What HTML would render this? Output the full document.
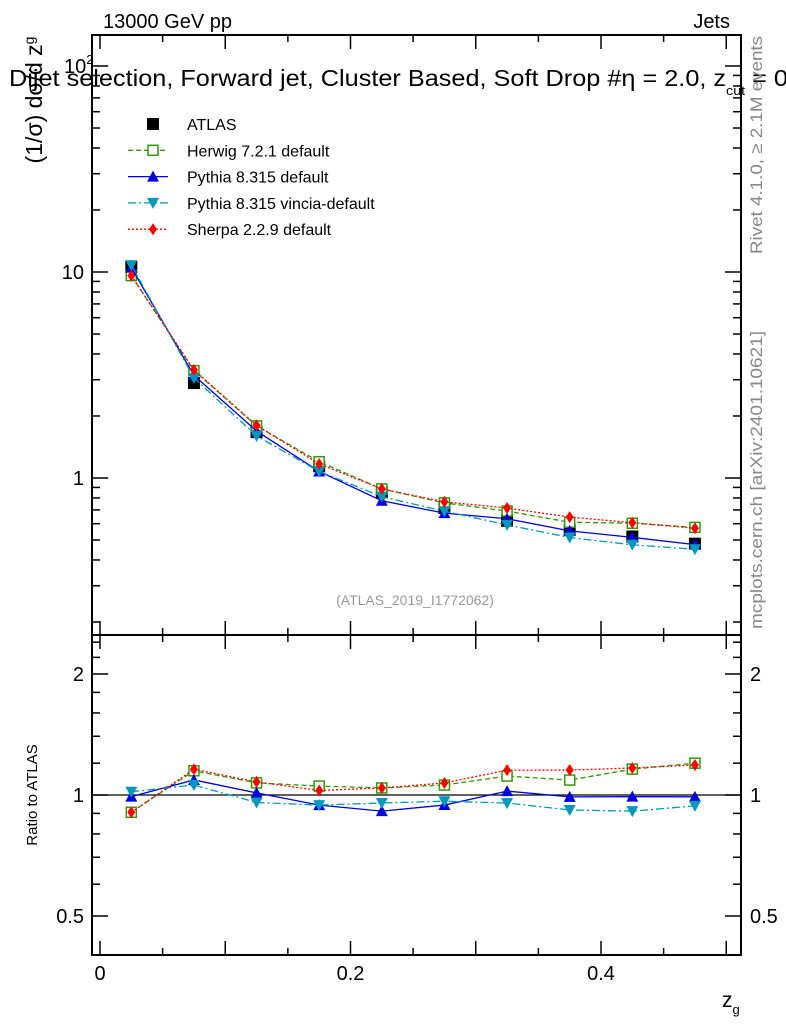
<!DOCTYPE html>
<html><head><meta charset="utf-8"><style>
body{margin:0;background:#fff;width:786px;height:1024px;overflow:hidden}
svg{font-family:"Liberation Sans",sans-serif}
</style></head><body>
<svg id="c" width="786" height="1024" viewBox="0 0 786 1024"></svg>
<script>
const xCenters=[0.025,0.075,0.125,0.175,0.225,0.275,0.325,0.375,0.425,0.475];
const atlasVals=[10.6,2.89,1.67,1.14,0.85,0.715,0.62,0.56,0.52,0.48];
const herwigVals=[9.6,3.32,1.79,1.20,0.885,0.757,0.691,0.61,0.603,0.576];
const pythiaVals=[10.5,3.15,1.69,1.076,0.775,0.675,0.634,0.554,0.515,0.475];
const vinciaVals=[10.8,3.06,1.60,1.076,0.812,0.69,0.592,0.514,0.474,0.451];
const sherpaVals=[9.6,3.35,1.80,1.17,0.885,0.766,0.715,0.646,0.607,0.57];
const xTicks=[0,0.2,0.4];
const ratioTicks=[0.5,1,2];

const NS="http://www.w3.org/2000/svg";
const svg=document.getElementById('c');
function el(t,a,p){const e=document.createElementNS(NS,t);for(const k in a)e.setAttribute(k,a[k]);(p||svg).appendChild(e);return e;}
const L=92,R=741,T=35,M=635,B=955;
const X=v=>100+v*1252.5;
const Y=v=>478-Math.log10(v)*206;
const YR=v=>795-Math.log2(v)*121;

let f1=el('rect',{x:L,y:T,width:R-L,height:M-T,fill:'none',stroke:'#000','stroke-width':2});

let f2=el('rect',{x:L,y:M,width:R-L,height:B-M,fill:'none',stroke:'#000','stroke-width':2});


for(let v=0;v<=0.5001;v+=0.05){const big=Math.abs(v*10-Math.round(v*10))<1e-6;const len=big?14:7;const x=X(v);
 [[T,T+len],[M,M-len],[M,M+len],[B,B-len]].forEach(([a,b])=>el('line',{x1:x,x2:x,y1:a,y2:b,stroke:'#000','stroke-width':1.5}));}
xTicks.forEach(v=>{const t=el('text',{x:X(v),y:980,'font-size':20,'text-anchor':'middle'});t.textContent=v===0?'0':v.toFixed(1);
 });
for(let d=-1;d<=2;d++)for(let m=1;m<10;m++){const v=m*Math.pow(10,d);const y=Y(v);if(y<T||y>M)continue;const len=m===1?16:8;
 el('line',{x1:L,x2:L+len,y1:y,y2:y,stroke:'#000','stroke-width':1.5});el('line',{x1:R,x2:R-len,y1:y,y2:y,stroke:'#000','stroke-width':1.5});}
[[1,'1'],[10,'10']].forEach(([v,s])=>{const t=el('text',{x:84,y:Y(v)+7,'font-size':20,'text-anchor':'end'});t.textContent=s;
 });
let t100=el('text',{x:64,y:73,'font-size':20});t100.innerHTML='10<tspan dy="-9" font-size="13">2</tspan>';

[0.4,0.5,0.6,0.7,0.8,0.9,1,1.2,1.4,1.6,1.8,2,2.2,2.4].forEach(v=>{const y=YR(v);const big=ratioTicks.includes(v);const len=big?16:8;
 el('line',{x1:L,x2:L+len,y1:y,y2:y,stroke:'#000','stroke-width':1.5});el('line',{x1:R,x2:R-len,y1:y,y2:y,stroke:'#000','stroke-width':1.5});});
ratioTicks.forEach(v=>{[[84,'end'],[750,'start']].forEach(([x,a])=>{const t=el('text',{x:x,y:YR(v)+7,'font-size':20,'text-anchor':a});t.textContent=String(v);
 });});
el('line',{x1:L,x2:R,y1:YR(1),y2:YR(1),stroke:'#000','stroke-width':1.2});

const series=[
 {name:'herwig',vals:herwigVals,color:'#339900',dash:'5,3',mk:'sq'},
 {name:'pythia',vals:pythiaVals,color:'#0000dd',dash:'',mk:'tri'},
 {name:'vincia',vals:vinciaVals,color:'#0099bb',dash:'8,3,2,3',mk:'itri'},
 {name:'sherpa',vals:sherpaVals,color:'#ff0000',dash:'2,2',mk:'dia'}];
function marker(kind,x,y,c,g){
 if(kind==='sq')return el('rect',{x:x-5,y:y-5,width:10,height:10,fill:'#fff',stroke:c,'stroke-width':1.5},g);
 if(kind==='tri')return el('polygon',{points:`${x},${y-6} ${x-6},${y+5} ${x+6},${y+5}`,fill:c},g);
 if(kind==='itri')return el('polygon',{points:`${x},${y+6} ${x-6},${y-5} ${x+6},${y-5}`,fill:c},g);
 if(kind==='dia')return el('polygon',{points:`${x},${y-6} ${x-4},${y} ${x},${y+6} ${x+4},${y}`,fill:c},g);
 return el('rect',{x:x-6,y:y-6,width:12,height:12,fill:c},g);}
const ga=el('g',{});
xCenters.forEach((x,i)=>{const m=marker('box',X(x),Y(atlasVals[i]),'#000',ga);});
series.forEach(s=>{
 const g=el('g',{});
 const pts=xCenters.map((x,i)=>X(x)+','+Y(s.vals[i])).join(' ');
 el('polyline',{points:pts,fill:'none',stroke:s.color,'stroke-width':1.3,'stroke-dasharray':s.dash},g);
 const rpts=xCenters.map((x,i)=>X(x)+','+YR(s.vals[i]/atlasVals[i])).join(' ');
 el('polyline',{points:rpts,fill:'none',stroke:s.color,'stroke-width':1.3,'stroke-dasharray':s.dash},g);
 xCenters.forEach((x,i)=>{const m=marker(s.mk,X(x),Y(s.vals[i]),s.color,g);
  const r=marker(s.mk,X(x),YR(s.vals[i]/atlasVals[i]),s.color,g);});
});
const legend=[['ATLAS','#000','','box'],['Herwig 7.2.1 default','#339900','5,3','sq'],['Pythia 8.315 default','#0000dd','','tri'],['Pythia 8.315 vincia-default','#0099bb','8,3,2,3','itri'],['Sherpa 2.2.9 default','#ff0000','2,2','dia']];
legend.forEach((l,i)=>{const y=124+i*26.3;const g=el('g',{});
 if(i>0)el('line',{x1:128,x2:168,y1:y,y2:y,stroke:l[1],'stroke-width':1.3,'stroke-dasharray':l[2]},g);
 marker(l[3],153,y,l[1],g);
 const t=el('text',{x:187,y:y+6,'font-size':16},g);t.textContent=l[0];});
function txt(s,a,name){const t=el('text',a);t.innerHTML=s;return t;}
txt('13000 GeV pp',{x:103,y:28,'font-size':20},'energy-label');
txt('Jets',{x:730,y:28,'font-size':20,'text-anchor':'end'},'category-label');
txt('Dijet selection, Forward jet, Cluster Based, Soft Drop #η = 2.0, z<tspan dy="9" font-size="13">cut</tspan><tspan dy="-9"> = 0.</tspan>',{x:9,y:86,'font-size':23,textLength:786,lengthAdjust:'spacingAndGlyphs'},'plot-title');
txt('(1/σ) dσ/d z<tspan dy="-8" font-size="14">g</tspan>',{x:0,y:0,'font-size':23,transform:'translate(42,100) rotate(-90)','text-anchor':'middle'},'y-axis-title');
txt('Ratio to ATLAS',{x:0,y:0,'font-size':15,transform:'translate(37,795) rotate(-90)','text-anchor':'middle'},'ratio-axis-title');
txt('z<tspan dy="7" font-size="13">g</tspan>',{x:722,y:1007,'font-size':21},'x-axis-title');
txt('(ATLAS_2019_I1772062)',{x:415,y:605,'font-size':14,fill:'#999','text-anchor':'middle'},'analysis-id');
txt('Rivet 4.1.0, ≥ 2.1M events',{x:0,y:0,'font-size':17,fill:'#888',transform:'translate(762,145) rotate(-90)','text-anchor':'middle',textLength:218,lengthAdjust:'spacingAndGlyphs'},'rivet-label');
txt('mcplots.cern.ch [arXiv:2401.10621]',{x:0,y:0,'font-size':17,fill:'#888',transform:'translate(762,480) rotate(-90)','text-anchor':'middle',textLength:298,lengthAdjust:'spacingAndGlyphs'},'mcplots-label');
</script>
</body></html>
